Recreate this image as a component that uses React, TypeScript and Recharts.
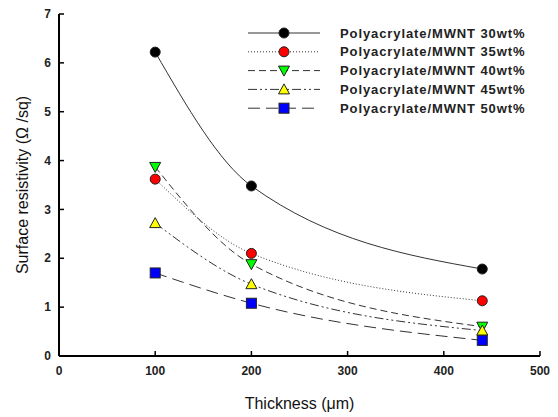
import { LineChart, Line, XAxis, YAxis } from 'recharts';

const thickness = [100, 200, 440];
const s30 = [6.22, 3.48, 1.78];
const s35 = [3.62, 2.1, 1.13];
const s40 = [3.87, 1.88, 0.6];
const s45 = [2.72, 1.47, 0.52];
const s50 = [1.7, 1.08, 0.32];
const xTicks = [0, 100, 200, 300, 400, 500];
const yTicks = [0, 1, 2, 3, 4, 5, 6, 7];

const data = thickness.map((t, i) => ({ t, s30: s30[i], s35: s35[i], s40: s40[i], s45: s45[i], s50: s50[i] }));

const series = [
    { key: 's30', name: 'Polyacrylate/MWNT 30wt%', dash: undefined, shape: 'circle', fill: '#000' },
    { key: 's35', name: 'Polyacrylate/MWNT 35wt%', dash: '1 2', shape: 'circle', fill: '#ff0000' },
    { key: 's40', name: 'Polyacrylate/MWNT 40wt%', dash: '7 4', shape: 'down', fill: '#00ff00' },
    { key: 's45', name: 'Polyacrylate/MWNT 45wt%', dash: '9 3 2 3 2 3', shape: 'up', fill: '#ffff00' },
    { key: 's50', name: 'Polyacrylate/MWNT 50wt%', dash: '12 6', shape: 'square', fill: '#0000ff' },
];

function Marker({ cx, cy, shape, fill }: any) {
    if (cx == null || cy == null) return null;
    const st = { fill, stroke: '#222', strokeWidth: 1 };
    if (shape === 'circle') return <circle cx={cx} cy={cy} r={5} {...st} />;
    if (shape === 'square') return <rect x={cx - 5} y={cy - 5} width={10} height={10} {...st} />;
    if (shape === 'down') return <polygon points={`${cx - 5.5},${cy - 4.5} ${cx + 5.5},${cy - 4.5} ${cx},${cy + 5.5}`} {...st} />;
    return <polygon points={`${cx - 5.5},${cy + 4.5} ${cx + 5.5},${cy + 4.5} ${cx},${cy - 5.5}`} {...st} />;
}

const tickFont = { fontFamily: '"Liberation Sans", Arial, sans-serif', fontSize: 12, fontWeight: 700, fill: '#222' };

function YTick({ x, y, payload }: any) {
    const ax = x + 8;
    return (
        <g>
            <line x1={ax} x2={ax + 5} y1={y} y2={y} stroke="#000" strokeWidth={1.5} />
            <text x={x} y={y} dy="0.35em" textAnchor="end" {...tickFont}>{payload.value}</text>
        </g>
    );
}

function XTick({ x, y, payload }: any) {
    const ay = y - 10;
    return (
        <g>
            <line x1={x} x2={x} y1={ay} y2={ay - 5} stroke="#000" strokeWidth={1.5} />
            <text x={x} y={y} dy="0.71em" textAnchor="middle" {...tickFont}>{payload.value}</text>
        </g>
    );
}

function LegendBox() {
    return (
        <svg width={300} height={110} style={{ position: 'absolute', left: 240, top: 20 }}>
            {series.map((s, i) => {
                const y = 13 + i * 18.8;
                return (
                    <g key={s.key}>
                        <line x1={8} x2={80} y1={y} y2={y} stroke="#333" strokeWidth={1} strokeDasharray={s.dash} />
                        <Marker cx={44} cy={y} shape={s.shape} fill={s.fill} />
                        <text x={100} y={y} dy="0.35em" fontFamily='"Liberation Sans", Arial, sans-serif' fontSize={13} fontWeight={700} letterSpacing={0.9} fill="#222">{s.name}</text>
                    </g>
                );
            })}
        </svg>
    );
}

export default function App() {
    return (
        <div style={{ position: 'relative', width: 558, height: 417, background: '#fff' }}>
            <style>{`body{margin:0}`}</style>
            <LineChart width={558} height={417} data={data} margin={{ top: 14, right: 18, left: 5, bottom: 6 }}>
                <XAxis xAxisId="x" dataKey="t" type="number" domain={[0, 500]} ticks={xTicks} height={55}
                    tickSize={0} tickMargin={10} tick={<XTick />} axisLine={{ stroke: '#000', strokeWidth: 2 }}
                    label={{ value: 'Thickness (μm)', position: 'insideBottom', offset: 2, style: { fontFamily: '"Liberation Sans", Arial, sans-serif', fontSize: 16, fill: '#111' } }} />
                <XAxis xAxisId="top" orientation="top" type="number" domain={[0, 500]} height={0} tick={false} tickLine={false} axisLine={{ stroke: '#000', strokeWidth: 2 }} />
                <YAxis yAxisId="y" type="number" domain={[0, 7]} ticks={yTicks} width={54} tickSize={0} tickMargin={8}
                    tick={<YTick />} axisLine={{ stroke: '#000', strokeWidth: 2 }}
                    label={{ value: 'Surface resistivity (Ω /sq)', angle: -90, position: 'insideLeft', offset: 17, style: { textAnchor: 'middle', fontFamily: '"Liberation Sans", Arial, sans-serif', fontSize: 16, fill: '#111' } }} />
                <YAxis yAxisId="r" orientation="right" type="number" domain={[0, 7]} width={0} tick={false} tickLine={false} axisLine={{ stroke: '#000', strokeWidth: 2 }} />
                {series.map(s => (
                    <Line key={s.key} xAxisId="x" yAxisId="y" type="monotone" dataKey={s.key} stroke="#333" strokeWidth={1}
                        strokeDasharray={s.dash} isAnimationActive={false}
                        dot={(p: any) => <Marker key={`${s.key}-${p.index}`} cx={p.cx} cy={p.cy} shape={s.shape} fill={s.fill} />} />
                ))}
            </LineChart>
            <LegendBox />
        </div>
    );
}
